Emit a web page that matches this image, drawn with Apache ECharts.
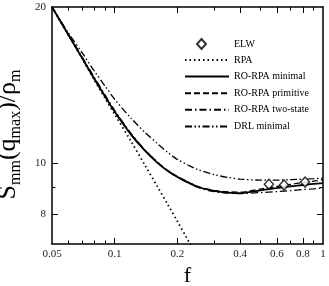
<!DOCTYPE html>
<html>
<head>
<meta charset="utf-8">
<script src="https://cdn.jsdelivr.net/npm/echarts@6/dist/echarts.min.js"></script>
<style>
html,body{margin:0;padding:0;background:#fff;}
#c{width:329px;height:286px;}
</style>
</head>
<body>
<div id="c"></div>
<script>
// ---- data ----
const fVals       = [0.05, 0.06, 0.07, 0.08, 0.09, 0.1, 0.12, 0.14, 0.16, 0.18, 0.2, 0.25, 0.3, 0.35, 0.4, 0.5, 0.6, 0.7, 0.8, 0.9, 1.0];
const roMinimal   = [20, 17.66, 15.91, 14.52, 13.44, 12.57, 11.35, 10.57, 10.04, 9.67, 9.42, 9.02, 8.86, 8.79, 8.77, 8.88, 8.97, 9.04, 9.09, 9.14, 9.17];
const roPrimitive = [20, 17.68, 15.94, 14.55, 13.47, 12.60, 11.38, 10.60, 10.07, 9.69, 9.44, 9.04, 8.88, 8.82, 8.81, 8.93, 9.03, 9.12, 9.19, 9.25, 9.30];
const roTwoState  = [20, 17.72, 16.00, 14.62, 13.54, 12.65, 11.41, 10.61, 10.06, 9.68, 9.42, 9.00, 8.83, 8.77, 8.75, 8.79, 8.83, 8.87, 8.91, 8.94, 8.97];
const drlMinimal  = [20, 17.82, 16.30, 15.04, 14.08, 13.29, 12.21, 11.47, 10.93, 10.50, 10.18, 9.74, 9.52, 9.40, 9.33, 9.29, 9.29, 9.31, 9.33, 9.35, 9.37];
const rpaF        = [0.05, 0.06, 0.07, 0.08, 0.09, 0.1, 0.12, 0.14, 0.16, 0.18, 0.2, 0.22, 0.23, 0.25];
const rpaS        = [20, 17.65, 15.88, 14.46, 13.35, 12.43, 11.02, 9.91, 9.04, 8.33, 7.74, 7.23, 6.99, 6.55];
const elwF        = [0.55, 0.65, 0.82];
const elwS        = [9.12, 9.09, 9.21];

const xLabels     = [0.05, 0.1, 0.2, 0.4, 0.6, 0.8, 1];
const xMajorTicks = [0.1, 0.2, 0.4, 0.6, 0.8];
const xMinorTicks = [0.06, 0.07, 0.08, 0.09, 0.3, 0.5, 0.7, 0.9];
const yLabels     = [8, 10, 20];
const yMajorTicks = [8, 10];
const yMinorTicks = [9];

const names = ['ELW', 'RPA', 'RO-RPA minimal', 'RO-RPA primitive', 'RO-RPA two-state', 'DRL minimal'];

// ---- chart ----
const FONT = 'Liberation Serif';
const X_MIN = 0.05, X_MAX = 1, Y_MIN = 7, Y_MAX = 20;
const GRID = {left: 52, right: 6, top: 7, bottom: 42};
const W = 329, H = 286;
const zip = (a, b) => a.map((v, i) => [v, b[i]]);
const fmt = v => String(parseFloat(Number(v).toPrecision(4)));

function xAx(pos, labels) {
  return {
    type: 'log', logBase: 10, min: X_MIN, max: X_MAX, position: pos,
    axisLine: {show: true, onZero: false, lineStyle: {color: '#000', width: 1.5}},
    axisTick: {show: false},
    axisLabel: labels ? {show: true, customValues: labels, formatter: fmt, margin: 5,
      fontFamily: FONT, fontSize: 11, color: '#222'} : {show: false},
    splitLine: {show: false}, minorTick: {show: false}, minorSplitLine: {show: false}
  };
}
function yAx(pos, labels) {
  return {
    type: 'log', logBase: 10, min: Y_MIN, max: Y_MAX, position: pos,
    axisLine: {show: true, onZero: false, lineStyle: {color: '#000', width: 1.5}},
    axisTick: {show: false},
    axisLabel: labels ? {show: true, customValues: labels, formatter: fmt, margin: 6,
      fontFamily: FONT, fontSize: 11, color: '#222'} : {show: false},
    splitLine: {show: false}, minorTick: {show: false}, minorSplitLine: {show: false}
  };
}

const xAxes = [
  Object.assign(xAx('bottom', xLabels), {
    name: 'f', nameLocation: 'middle', nameGap: 11,
    nameTextStyle: {fontFamily: FONT, fontSize: 22, color: '#000'}
  }),
  xAx('top', null)
];
const yAxes = [
  Object.assign(yAx('left', yLabels), {
    name: '{a|S}{b|mm}{a|(q}{b|max}{a|)/ρ}{b|m}',
    nameLocation: 'middle', nameGap: 20, nameRotate: 90,
    nameTextStyle: {
      fontFamily: FONT, color: '#000', padding: [0, 18, 0, 0],
      rich: {
        a: {fontFamily: FONT, fontSize: 26, lineHeight: 31, color: '#000', verticalAlign: 'middle'},
        b: {fontFamily: FONT, fontSize: 16, lineHeight: 16, color: '#000', verticalAlign: 'bottom'}
      }
    }
  }),
  yAx('right', null)
];

// inward tick marks, expressed in data units so the axes' own scales place them
const gridW = W - GRID.left - GRID.right, gridH = H - GRID.top - GRID.bottom;
const xStep = px => Math.pow(X_MAX / X_MIN, px / gridW);   // multiplicative step of px pixels on x
const yStep = px => Math.pow(Y_MAX / Y_MIN, px / gridH);   // multiplicative step of px pixels on y
function tickLines() {
  const out = [];
  const pair = (a, b) => out.push([{coord: a}, {coord: b}]);
  const addX = (v, len) => { pair([v, Y_MIN], [v, Y_MIN * yStep(len)]); pair([v, Y_MAX], [v, Y_MAX / yStep(len)]); };
  const addY = (v, len) => { pair([X_MIN, v], [X_MIN * xStep(len), v]); pair([X_MAX, v], [X_MAX / xStep(len), v]); };
  xMajorTicks.forEach(v => addX(v, 6));
  xMinorTicks.forEach(v => addX(v, 3.5));
  yMajorTicks.forEach(v => addY(v, 6));
  yMinorTicks.forEach(v => addY(v, 3.5));
  return out;
}

function lineSeries(name, data, type, width) {
  return {
    name, type: 'line', data, xAxisIndex: 0, yAxisIndex: 0,
    symbol: 'none', showSymbol: false, smooth: 0.3, clip: true,
    lineStyle: {color: '#000', width, type},
    itemStyle: {color: '#000'},
    emphasis: {disabled: true}, z: 3
  };
}

const hiddenIcon = {color: 'rgba(0,0,0,0)', borderWidth: 0, borderColor: 'rgba(0,0,0,0)'};
const legendText = {fontFamily: FONT, fontSize: 10, color: '#000'};

const minimalSeries = lineSeries(names[2], zip(fVals, roMinimal), 'solid', 1.8);
minimalSeries.markLine = {
  silent: true, animation: false, symbol: ['none', 'none'], precision: 6,
  label: {show: false}, emphasis: {disabled: true},
  lineStyle: {color: '#000', width: 1, type: 'solid'},
  data: tickLines()
};

const option = {
  animation: false,
  grid: Object.assign({containLabel: false, outerBoundsMode: 'none'}, GRID),
  xAxis: xAxes,
  yAxis: yAxes,
  legend: [
    {
      data: [names[0]],
      orient: 'vertical', left: 191, top: 33,
      itemWidth: 9, itemHeight: 10,
      textStyle: Object.assign({padding: [0, 0, 0, 23]}, legendText),
      selectedMode: false
    },
    {
      data: names.slice(1).map(n => ({name: n, itemStyle: hiddenIcon})),
      orient: 'vertical', left: 179, top: 50,
      itemWidth: 44, itemHeight: 8, itemGap: 6.6,
      textStyle: legendText,
      selectedMode: false
    }
  ],
  series: [
    {
      name: names[0], type: 'scatter', data: zip(elwF, elwS),
      symbol: 'diamond', symbolSize: [9, 10],
      itemStyle: {color: '#fff', borderColor: '#000', borderWidth: 1.5},
      emphasis: {disabled: true}, z: 5
    },
    lineSeries(names[1], zip(rpaF, rpaS), [1.5, 3], 1.8),
    minimalSeries,
    lineSeries(names[3], zip(fVals, roPrimitive), [6, 3], 1.3),
    lineSeries(names[4], zip(fVals, roTwoState), [7, 3, 1.5, 3], 1.3),
    lineSeries(names[5], zip(fVals, drlMinimal), [7, 2.5, 1.5, 2.5, 1.5, 2.5], 1.3)
  ]
};

const chart = echarts.init(document.getElementById('c'), null, {renderer: 'canvas'});
chart.setOption(option);
</script>
</body>
</html>
